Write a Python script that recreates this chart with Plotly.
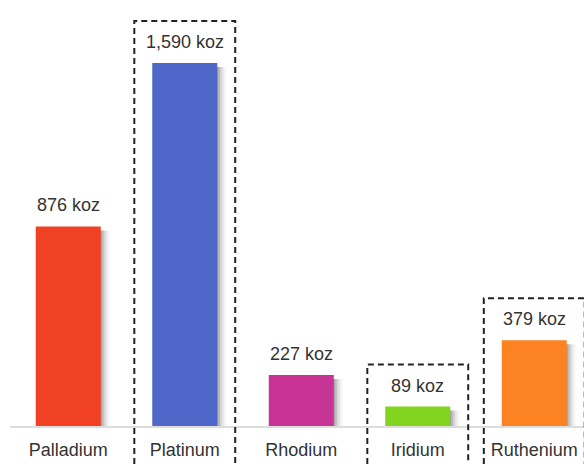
import plotly.graph_objects as go

metals = ["Palladium", "Platinum", "Rhodium", "Iridium", "Ruthenium"]
values = [876, 1590, 227, 89, 379]
value_labels = ["876 koz", "1,590 koz", "227 koz", "89 koz", "379 koz"]
colors = ["#F04124", "#4F67C8", "#C83496", "#82D41E", "#FC8222"]
highlighted = ["Platinum", "Iridium", "Ruthenium"]

W, H = 584, 464
L = 10
Y_MAX, Y_MIN = 1865, -162
X_MIN, X_MAX = -0.5, 4.427
px_x = (X_MAX - X_MIN) / (W - L)          # data units per px (x)
px_y = (Y_MAX - Y_MIN) / H                 # data units per px (y)
BAR_W = 0.558

xs = list(range(len(metals)))
fig = go.Figure()

# soft drop shadow
for k, a in [(9, 0.03), (7, 0.05), (5, 0.08), (3, 0.12), (1, 0.15)]:
    fig.add_trace(go.Bar(
        x=xs, y=[v - 4 * px_y for v in values],
        width=BAR_W, offset=-BAR_W / 2 + k * px_x,
        marker=dict(color=f"rgba(0,0,0,{a})", line=dict(width=0)),
        hoverinfo="skip", showlegend=False))

fig.add_trace(go.Bar(
    x=xs, y=values, width=BAR_W, offset=-BAR_W / 2,
    marker=dict(color=colors, line=dict(width=0)),
    showlegend=False))

for i, (v, t) in enumerate(zip(values, value_labels)):
    fig.add_annotation(x=i, y=v, text=t, showarrow=False, yanchor="bottom",
                       yshift=9, font=dict(size=18, color="#333333"))

for name in highlighted:
    i = metals.index(name)
    x0, x1 = i - 0.433, i + 0.433
    y0, y1 = Y_MIN - 30 * px_y, values[i] + 42 * px_y
    fig.add_shape(type="path", xref="x", yref="y",
                  path=f"M {x0},{y0} L {x0},{y1} L {x1},{y1} L {x1},{y0}",
                  line=dict(color="#222222", width=2, dash="6px,4px"),
                  layer="above")

axis_pos = (0 - Y_MIN) / (Y_MAX - Y_MIN)
fig.update_layout(
    width=W, height=H, margin=dict(l=L, r=0, t=0, b=0),
    paper_bgcolor="white", plot_bgcolor="white",
    barmode="overlay",
    font=dict(family="Liberation Sans, Arial, sans-serif", color="#333333"),
    xaxis=dict(range=[X_MIN, X_MAX], tickvals=xs, ticktext=metals,
               anchor="free", position=axis_pos,
               showline=True, linecolor="#dddddd", linewidth=2,
               showgrid=False, zeroline=False,
               ticks="outside", ticklen=6, tickcolor="rgba(0,0,0,0)",
               tickfont=dict(size=18, color="#333333")),
    yaxis=dict(range=[Y_MIN, Y_MAX], visible=False, showgrid=False,
               zeroline=False),
)

fig.write_html("out.html", config={"displayModeBar": False},
               post_script="document.body.style.margin='0';"
                           "document.body.style.overflow='hidden';")
